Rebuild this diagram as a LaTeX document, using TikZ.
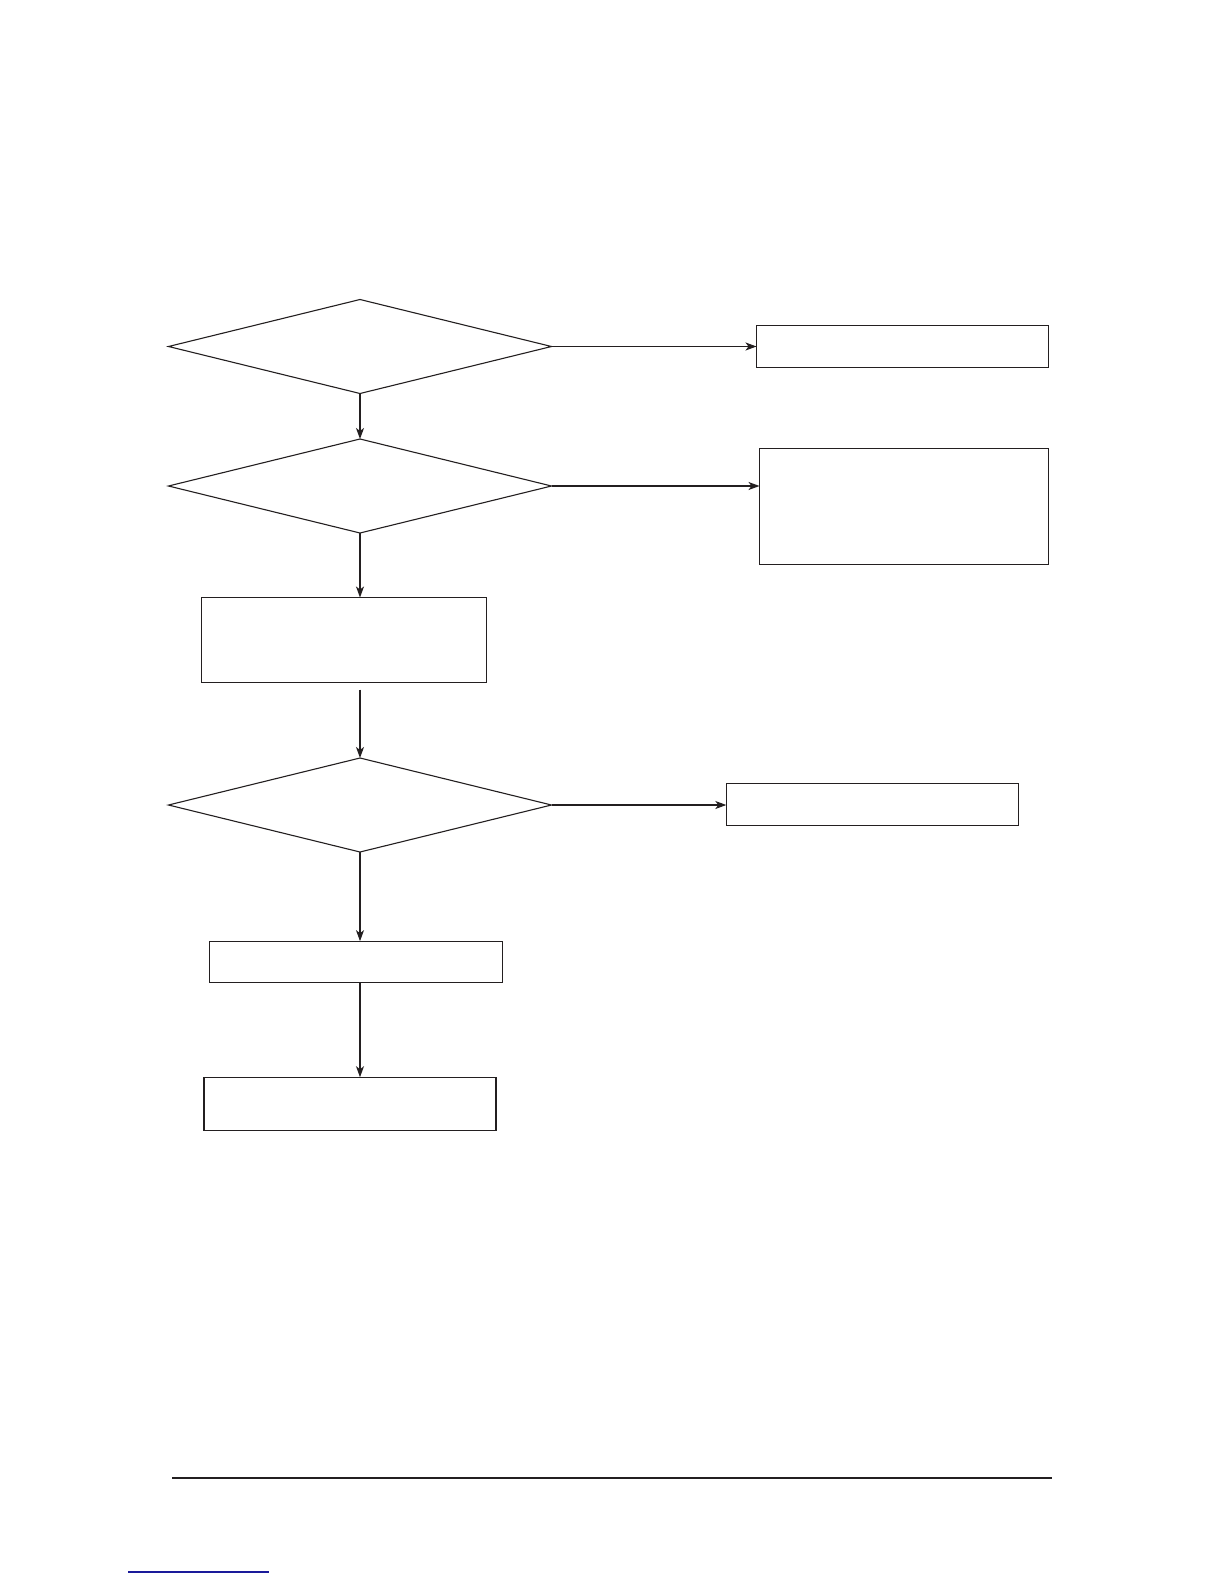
\documentclass[tikz,border=0pt]{standalone}
\usepackage{xcolor}
\usetikzlibrary{arrows.meta,shapes.geometric}
\definecolor{chartink}{HTML}{231F20}
\definecolor{linkblue}{HTML}{1A1A9A}

\begin{document}
\begin{tikzpicture}[
  x=1pt,
  y=-1pt,
  every node/.style={chartink, line width=1.1pt, inner sep=0pt, outer sep=0pt},
  query/.style={draw, diamond, aspect=4.06, minimum width=383pt, minimum height=94pt},
  stepbox/.style={draw, rectangle},
  flow/.style={chartink, line width=1.1pt, -{Stealth[length=11pt, width=8pt, inset=3pt]}},
  rule/.style={chartink, line width=2.4pt}
]
  % ---- page frame ------------------------------------------------------
  \useasboundingbox[fill=white] (0,0) rectangle (1224,1584);

  % ---- decisions -------------------------------------------------------
  \node[query] (q1) at (360,346.5) {};
  \node[query] (q2) at (360,486) {};
  \node[query] (q3) at (360,805) {};

  % ---- main column -----------------------------------------------------
  \node[stepbox, minimum width=285pt, minimum height=85pt]   (s1) at (344,640) {};
  \node[stepbox, minimum width=293pt, minimum height=41.7pt] (s2) at (356,962) {};
  \node[stepbox, minimum width=292pt, minimum height=53pt]   (s3) at (350,1103.7) {};

  % ---- side branches ---------------------------------------------------
  \node[stepbox, minimum width=292pt, minimum height=42pt]   (b1) at (902.5,346.3) {};
  \node[stepbox, minimum width=289pt, minimum height=116pt]  (b2) at (904,506.3) {};
  \node[stepbox, minimum width=292pt, minimum height=41.7pt] (b3) at (872.3,804.2) {};

  % ---- downward flow ---------------------------------------------------
  \draw[flow] (q1.south) -- (q2.north);
  \draw[flow] (q2.south) -- (q2.south |- s1.north);
  \draw[flow, shorten <=7pt] (s1.south -| q3.north) -- (q3.north);
  \draw[flow] (q3.south) -- (q3.south |- s2.north);
  \draw[flow] (q3.south |- s2.south) -- (q3.south |- s3.north);

  % ---- branches to the right -------------------------------------------
  \draw[flow] (q1.east) -- (q1.east -| b1.west);
  \draw[flow] (q2.east) -- (q2.east -| b2.west);
  \draw[flow] (q3.east) -- (q3.east -| b3.west);

  % ---- foot of the page ------------------------------------------------
  \draw[rule] (172,1478) -- (1052,1478);
  \draw[linkblue, line width=1.2pt] (128,1572) -- (269,1572);
\end{tikzpicture}
\end{document}
